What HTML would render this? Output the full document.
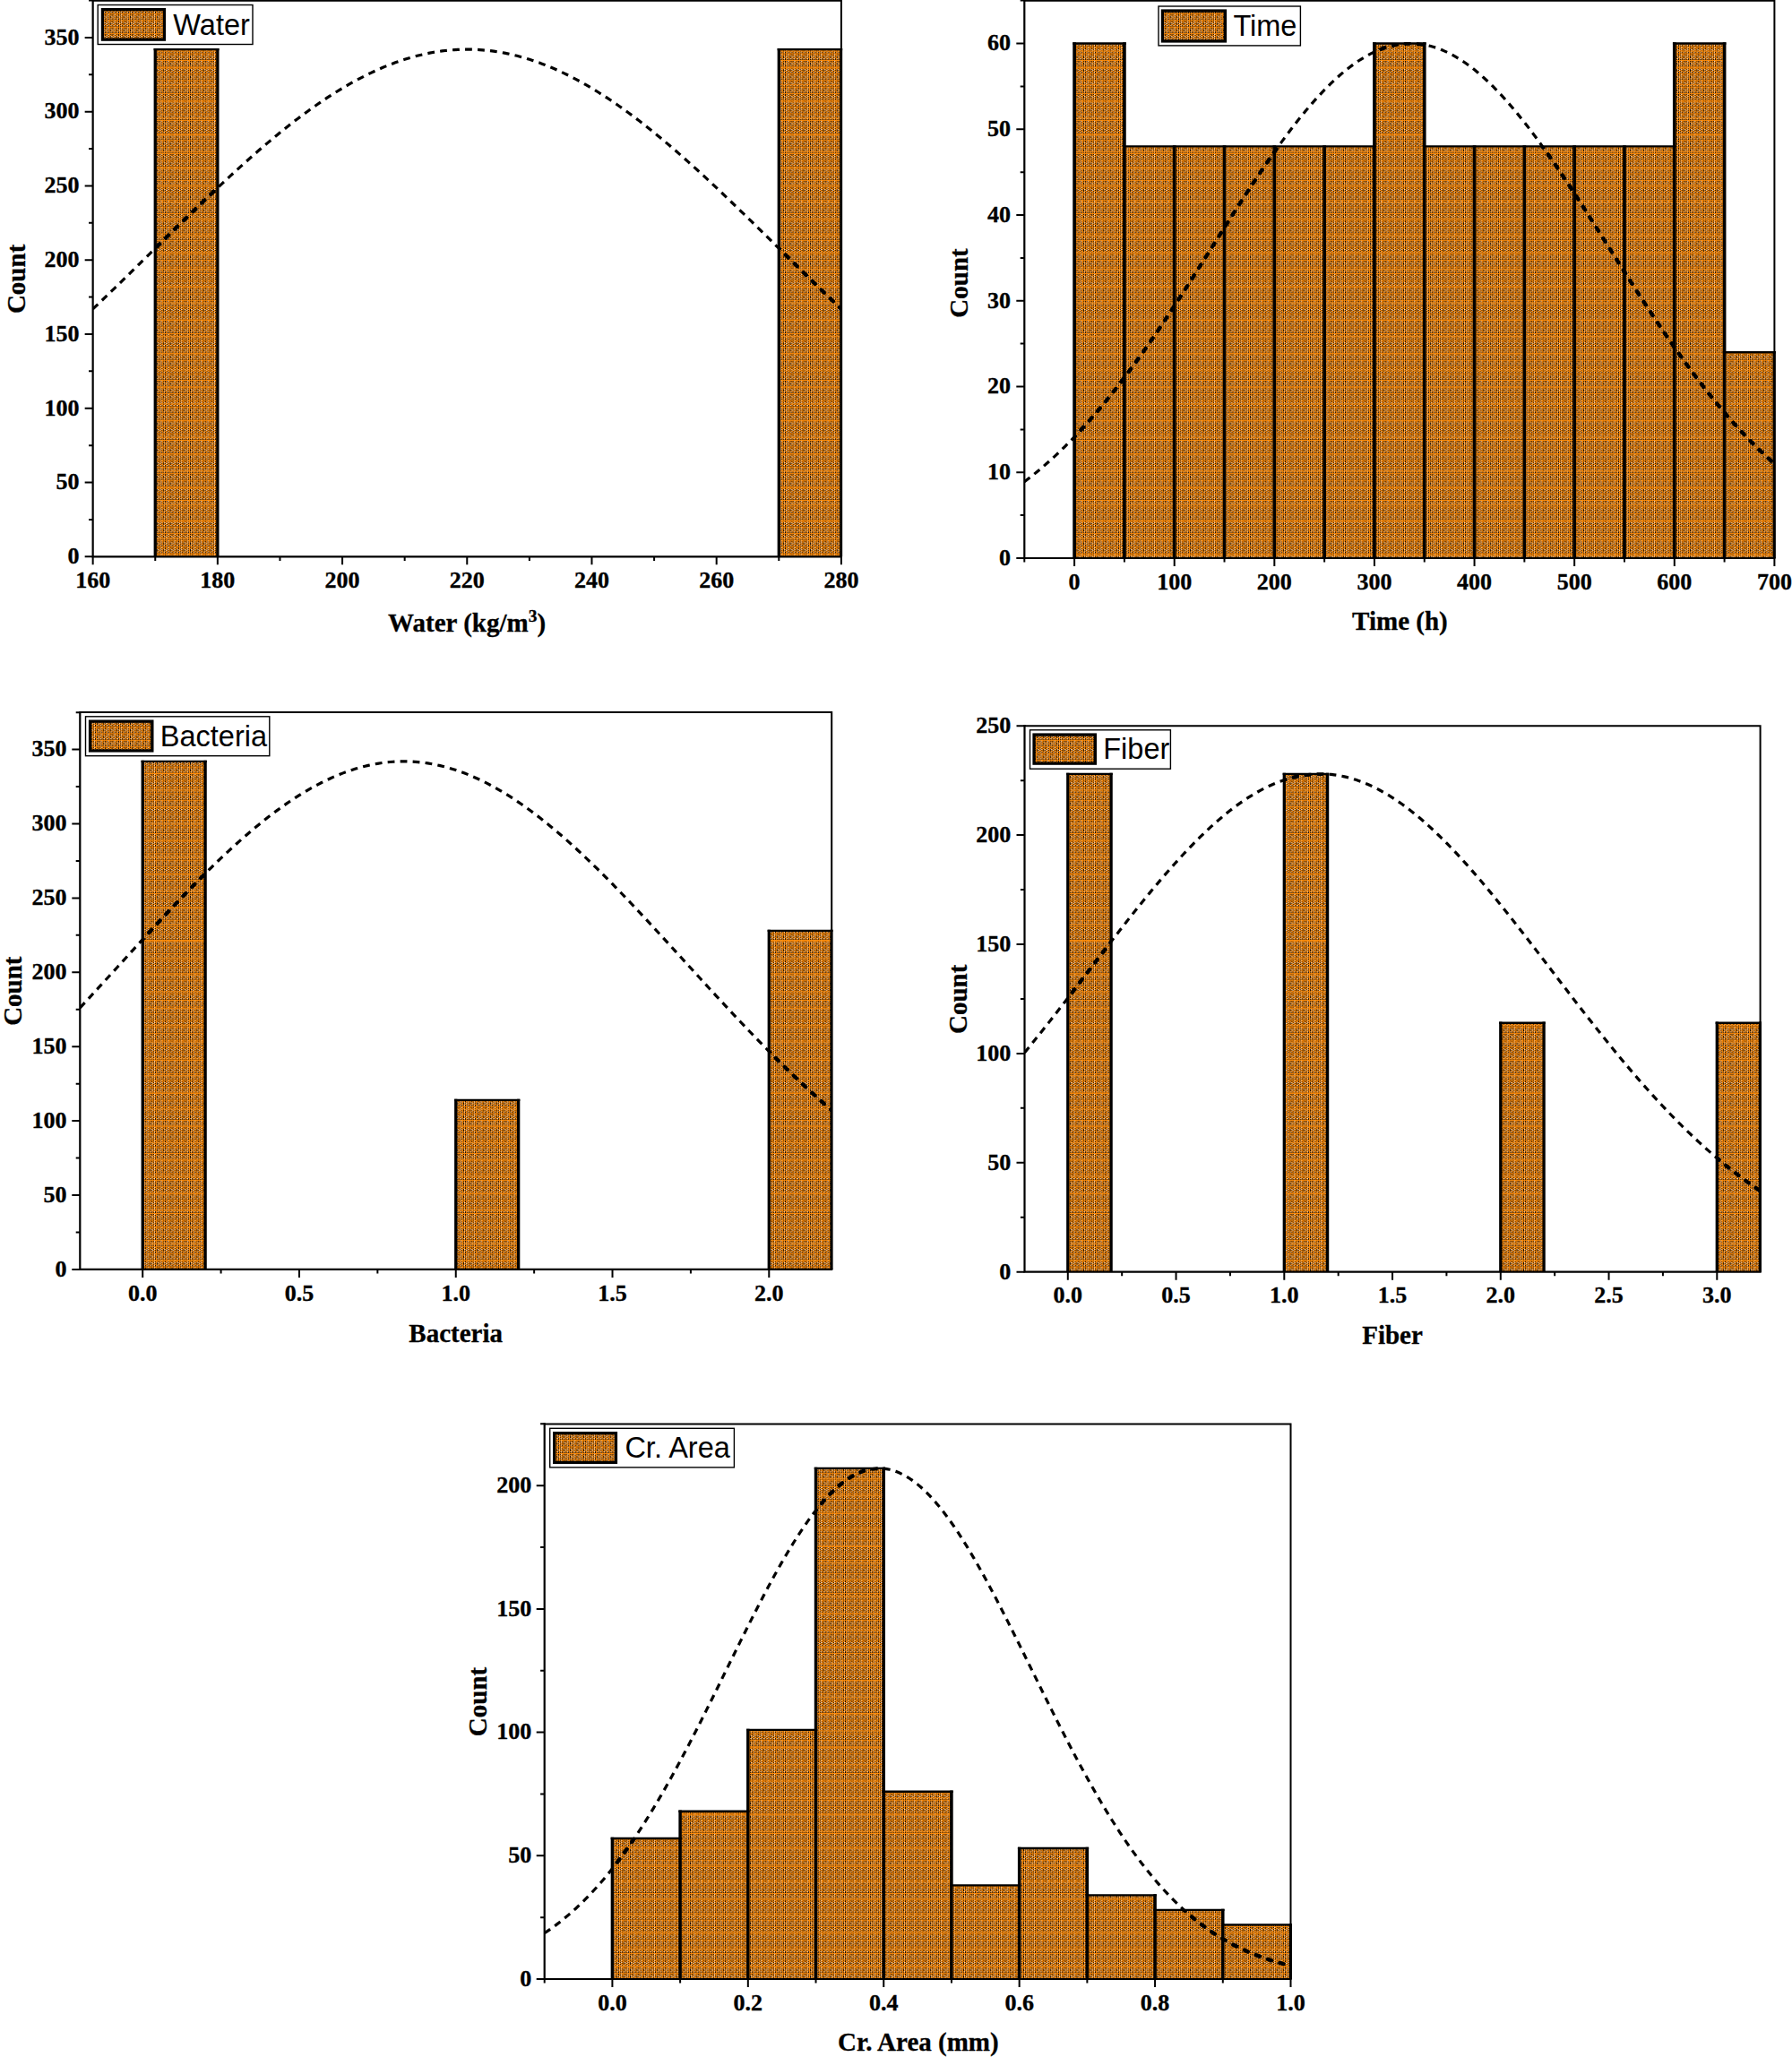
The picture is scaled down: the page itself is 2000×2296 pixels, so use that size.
<!DOCTYPE html>
<html lang="en">
<head>
<meta charset="utf-8">
<title>Histograms</title>
<style>html,body{margin:0;padding:0;background:#fff}body{width:2000px;height:2296px;overflow:hidden}svg{display:block}</style>
</head>
<body>
<svg width="2000" height="2296" viewBox="0 0 2000 2296">
<rect width="2000" height="2296" fill="#fff"/>
<defs>
<pattern id="hatch" width="8" height="8" patternUnits="userSpaceOnUse" patternTransform="scale(0.93)">
<rect width="8" height="8" fill="#ff8c0a"/>
<rect x="0" y="1" width="1" height="1" fill="#0a0a0a"/>
<rect x="1" y="1" width="1" height="1" fill="#dfe4ee"/>
<rect x="4" y="1" width="1" height="1" fill="#0a0a0a"/>
<rect x="6" y="1" width="1" height="1" fill="#0a0a0a"/>
<rect x="2" y="2" width="1" height="1" fill="#0a0a0a"/>
<rect x="6" y="2" width="1" height="1" fill="#0a0a0a"/>
<rect x="0" y="3" width="1" height="1" fill="#0a0a0a"/>
<rect x="1" y="3" width="1" height="1" fill="#dfe4ee"/>
<rect x="4" y="3" width="1" height="1" fill="#0a0a0a"/>
<rect x="5" y="3" width="1" height="1" fill="#dfe4ee"/>
<rect x="2" y="4" width="1" height="1" fill="#0a0a0a"/>
<rect x="4" y="4" width="1" height="1" fill="#0a0a0a"/>
<rect x="6" y="4" width="1" height="1" fill="#0a0a0a"/>
<rect x="7" y="4" width="1" height="1" fill="#dfe4ee"/>
<rect x="0" y="5" width="1" height="1" fill="#0a0a0a"/>
<rect x="4" y="5" width="1" height="1" fill="#0a0a0a"/>
<rect x="1" y="6" width="1" height="1" fill="#dfe4ee"/>
<rect x="2" y="6" width="1" height="1" fill="#0a0a0a"/>
<rect x="5" y="6" width="1" height="1" fill="#dfe4ee"/>
<rect x="6" y="6" width="1" height="1" fill="#0a0a0a"/>
<rect x="0" y="7" width="1" height="1" fill="#0a0a0a"/>
<rect x="2" y="7" width="1" height="1" fill="#0a0a0a"/>
<rect x="4" y="7" width="1" height="1" fill="#0a0a0a"/>
<rect x="6" y="7" width="1" height="1" fill="#0a0a0a"/>
</pattern>
<pattern id="hl" width="40" height="18.75" patternUnits="userSpaceOnUse">
<rect width="40" height="1.4" fill="#ff8c0a" fill-opacity="0.6"/>
</pattern>
</defs>
<g id="c1">
<clipPath id="c1-clip"><rect x="103.65" y="0.7" width="836.65" height="621.7"/></clipPath>
<g clip-path="url(#c1-clip)">
<g fill="url(#hatch)"><rect x="173.25" y="55.14" width="69.6" height="566.16"/><rect x="869.3" y="55.14" width="69.6" height="566.16"/></g>
<g fill="url(#hl)"><rect x="173.25" y="55.14" width="69.6" height="566.16"/><rect x="869.3" y="55.14" width="69.6" height="566.16"/></g>
<path d="M173.25 621.3V53.94M242.86 621.3V53.94M869.3 621.3V53.94M938.9 621.3V53.94" fill="none" stroke="#000" stroke-width="3.3"/>
<path d="M171.6 55.14H244.51M867.65 55.14H940.55" fill="none" stroke="#000" stroke-width="2.4"/>
<polyline points="103.65,344.93 107.13,341.62 110.61,338.3 114.09,334.97 117.57,331.63 121.05,328.28 124.53,324.91 128.01,321.54 131.49,318.17 134.97,314.78 138.45,311.39 141.93,307.99 145.41,304.59 148.89,301.18 152.37,297.76 155.85,294.35 159.33,290.93 162.81,287.5 166.29,284.08 169.77,280.65 173.25,277.22 176.73,273.8 180.21,270.37 183.69,266.95 187.18,263.52 190.66,260.1 194.14,256.69 197.62,253.28 201.1,249.87 204.58,246.47 208.06,243.08 211.54,239.69 215.02,236.31 218.5,232.94 221.98,229.58 225.46,226.23 228.94,222.89 232.42,219.56 235.9,216.25 239.38,212.95 242.86,209.66 246.34,206.39 249.82,203.13 253.3,199.89 256.78,196.67 260.26,193.46 263.74,190.28 267.22,187.11 270.7,183.96 274.18,180.84 277.66,177.73 281.14,174.65 284.62,171.59 288.1,168.56 291.58,165.55 295.06,162.57 298.54,159.61 302.02,156.68 305.5,153.78 308.98,150.91 312.46,148.07 315.94,145.25 319.42,142.47 322.9,139.72 326.38,137 329.86,134.32 333.34,131.67 336.82,129.05 340.3,126.47 343.78,123.93 347.26,121.42 350.74,118.95 354.23,116.52 357.71,114.12 361.19,111.77 364.67,109.45 368.15,107.18 371.63,104.95 375.11,102.76 378.59,100.61 382.07,98.5 385.55,96.44 389.03,94.43 392.51,92.46 395.99,90.53 399.47,88.65 402.95,86.82 406.43,85.03 409.91,83.29 413.39,81.6 416.87,79.96 420.35,78.37 423.83,76.82 427.31,75.33 430.79,73.89 434.27,72.49 437.75,71.15 441.23,69.86 444.71,68.63 448.19,67.44 451.67,66.31 455.15,65.23 458.63,64.21 462.11,63.23 465.59,62.32 469.07,61.45 472.55,60.64 476.03,59.89 479.51,59.19 482.99,58.54 486.47,57.96 489.95,57.42 493.43,56.95 496.91,56.52 500.39,56.16 503.87,55.85 507.35,55.59 510.83,55.4 514.31,55.26 517.79,55.17 521.27,55.14 524.76,55.17 528.24,55.26 531.72,55.4 535.2,55.59 538.68,55.85 542.16,56.16 545.64,56.52 549.12,56.95 552.6,57.42 556.08,57.96 559.56,58.54 563.04,59.19 566.52,59.89 570,60.64 573.48,61.45 576.96,62.32 580.44,63.23 583.92,64.21 587.4,65.23 590.88,66.31 594.36,67.44 597.84,68.63 601.32,69.86 604.8,71.15 608.28,72.49 611.76,73.89 615.24,75.33 618.72,76.82 622.2,78.37 625.68,79.96 629.16,81.6 632.64,83.29 636.12,85.03 639.6,86.82 643.08,88.65 646.56,90.53 650.04,92.46 653.52,94.43 657,96.44 660.48,98.5 663.96,100.61 667.44,102.76 670.92,104.95 674.4,107.18 677.88,109.45 681.36,111.77 684.84,114.12 688.32,116.52 691.81,118.95 695.29,121.42 698.77,123.93 702.25,126.47 705.73,129.05 709.21,131.67 712.69,134.32 716.17,137 719.65,139.72 723.13,142.47 726.61,145.25 730.09,148.07 733.57,150.91 737.05,153.78 740.53,156.68 744.01,159.61 747.49,162.57 750.97,165.55 754.45,168.56 757.93,171.59 761.41,174.65 764.89,177.73 768.37,180.84 771.85,183.96 775.33,187.11 778.81,190.28 782.29,193.46 785.77,196.67 789.25,199.89 792.73,203.13 796.21,206.39 799.69,209.66 803.17,212.95 806.65,216.25 810.13,219.56 813.61,222.89 817.09,226.23 820.57,229.58 824.05,232.94 827.53,236.31 831.01,239.69 834.49,243.08 837.97,246.47 841.45,249.87 844.93,253.28 848.41,256.69 851.89,260.1 855.37,263.52 858.86,266.95 862.34,270.37 865.82,273.8 869.3,277.22 872.78,280.65 876.26,284.08 879.74,287.5 883.22,290.93 886.7,294.35 890.18,297.76 893.66,301.18 897.14,304.59 900.62,307.99 904.1,311.39 907.58,314.78 911.06,318.17 914.54,321.54 918.02,324.91 921.5,328.28 924.98,331.63 928.46,334.97 931.94,338.3 935.42,341.62 938.9,344.93" fill="none" stroke="#000" stroke-width="3.2" stroke-dasharray="7.8 6.2" stroke-linejoin="round"/>
<clipPath id="c1-bars"><rect x="173.25" y="55.14" width="69.6" height="566.16"/><rect x="869.3" y="55.14" width="69.6" height="566.16"/></clipPath>
<polyline clip-path="url(#c1-bars)" points="103.65,344.93 107.13,341.62 110.61,338.3 114.09,334.97 117.57,331.63 121.05,328.28 124.53,324.91 128.01,321.54 131.49,318.17 134.97,314.78 138.45,311.39 141.93,307.99 145.41,304.59 148.89,301.18 152.37,297.76 155.85,294.35 159.33,290.93 162.81,287.5 166.29,284.08 169.77,280.65 173.25,277.22 176.73,273.8 180.21,270.37 183.69,266.95 187.18,263.52 190.66,260.1 194.14,256.69 197.62,253.28 201.1,249.87 204.58,246.47 208.06,243.08 211.54,239.69 215.02,236.31 218.5,232.94 221.98,229.58 225.46,226.23 228.94,222.89 232.42,219.56 235.9,216.25 239.38,212.95 242.86,209.66 246.34,206.39 249.82,203.13 253.3,199.89 256.78,196.67 260.26,193.46 263.74,190.28 267.22,187.11 270.7,183.96 274.18,180.84 277.66,177.73 281.14,174.65 284.62,171.59 288.1,168.56 291.58,165.55 295.06,162.57 298.54,159.61 302.02,156.68 305.5,153.78 308.98,150.91 312.46,148.07 315.94,145.25 319.42,142.47 322.9,139.72 326.38,137 329.86,134.32 333.34,131.67 336.82,129.05 340.3,126.47 343.78,123.93 347.26,121.42 350.74,118.95 354.23,116.52 357.71,114.12 361.19,111.77 364.67,109.45 368.15,107.18 371.63,104.95 375.11,102.76 378.59,100.61 382.07,98.5 385.55,96.44 389.03,94.43 392.51,92.46 395.99,90.53 399.47,88.65 402.95,86.82 406.43,85.03 409.91,83.29 413.39,81.6 416.87,79.96 420.35,78.37 423.83,76.82 427.31,75.33 430.79,73.89 434.27,72.49 437.75,71.15 441.23,69.86 444.71,68.63 448.19,67.44 451.67,66.31 455.15,65.23 458.63,64.21 462.11,63.23 465.59,62.32 469.07,61.45 472.55,60.64 476.03,59.89 479.51,59.19 482.99,58.54 486.47,57.96 489.95,57.42 493.43,56.95 496.91,56.52 500.39,56.16 503.87,55.85 507.35,55.59 510.83,55.4 514.31,55.26 517.79,55.17 521.27,55.14 524.76,55.17 528.24,55.26 531.72,55.4 535.2,55.59 538.68,55.85 542.16,56.16 545.64,56.52 549.12,56.95 552.6,57.42 556.08,57.96 559.56,58.54 563.04,59.19 566.52,59.89 570,60.64 573.48,61.45 576.96,62.32 580.44,63.23 583.92,64.21 587.4,65.23 590.88,66.31 594.36,67.44 597.84,68.63 601.32,69.86 604.8,71.15 608.28,72.49 611.76,73.89 615.24,75.33 618.72,76.82 622.2,78.37 625.68,79.96 629.16,81.6 632.64,83.29 636.12,85.03 639.6,86.82 643.08,88.65 646.56,90.53 650.04,92.46 653.52,94.43 657,96.44 660.48,98.5 663.96,100.61 667.44,102.76 670.92,104.95 674.4,107.18 677.88,109.45 681.36,111.77 684.84,114.12 688.32,116.52 691.81,118.95 695.29,121.42 698.77,123.93 702.25,126.47 705.73,129.05 709.21,131.67 712.69,134.32 716.17,137 719.65,139.72 723.13,142.47 726.61,145.25 730.09,148.07 733.57,150.91 737.05,153.78 740.53,156.68 744.01,159.61 747.49,162.57 750.97,165.55 754.45,168.56 757.93,171.59 761.41,174.65 764.89,177.73 768.37,180.84 771.85,183.96 775.33,187.11 778.81,190.28 782.29,193.46 785.77,196.67 789.25,199.89 792.73,203.13 796.21,206.39 799.69,209.66 803.17,212.95 806.65,216.25 810.13,219.56 813.61,222.89 817.09,226.23 820.57,229.58 824.05,232.94 827.53,236.31 831.01,239.69 834.49,243.08 837.97,246.47 841.45,249.87 844.93,253.28 848.41,256.69 851.89,260.1 855.37,263.52 858.86,266.95 862.34,270.37 865.82,273.8 869.3,277.22 872.78,280.65 876.26,284.08 879.74,287.5 883.22,290.93 886.7,294.35 890.18,297.76 893.66,301.18 897.14,304.59 900.62,307.99 904.1,311.39 907.58,314.78 911.06,318.17 914.54,321.54 918.02,324.91 921.5,328.28 924.98,331.63 928.46,334.97 931.94,338.3 935.42,341.62 938.9,344.93" fill="none" stroke="#000" stroke-width="4.4" stroke-dasharray="4 10" stroke-dashoffset="-1.9" stroke-linecap="round" stroke-linejoin="round"/>
</g>
<path d="M103.65 0.7H938.9V621.3" fill="none" stroke="#000" stroke-width="2"/>
<path d="M103.65 0.7V621.3H938.9" fill="none" stroke="#000" stroke-width="2.2" stroke-linecap="square"/>
<path d="M103.65 621.3v9M242.86 621.3v9M382.07 621.3v9M521.27 621.3v9M660.48 621.3v9M799.69 621.3v9M938.9 621.3v9M173.25 621.3v4.6M312.46 621.3v4.6M451.67 621.3v4.6M590.88 621.3v4.6M730.09 621.3v4.6M869.3 621.3v4.6M103.65 621.3h-9M103.65 538.53h-9M103.65 455.76h-9M103.65 372.99h-9M103.65 290.21h-9M103.65 207.44h-9M103.65 124.67h-9M103.65 41.9h-9M103.65 579.91h-4.6M103.65 497.14h-4.6M103.65 414.37h-4.6M103.65 331.6h-4.6M103.65 248.83h-4.6M103.65 166.06h-4.6M103.65 83.29h-4.6M103.65 0.51h-4.6" fill="none" stroke="#000" stroke-width="2"/>
<g font-family="'Liberation Serif', 'Times New Roman', serif" font-weight="bold" font-size="26" fill="#000" stroke="#000" stroke-width="0.35">
<g text-anchor="middle">
<text x="103.65" y="656.4">160</text>
<text x="242.86" y="656.4">180</text>
<text x="382.07" y="656.4">200</text>
<text x="521.27" y="656.4">220</text>
<text x="660.48" y="656.4">240</text>
<text x="799.69" y="656.4">260</text>
<text x="938.9" y="656.4">280</text>
</g><g text-anchor="end">
<text x="88.5" y="629.1">0</text>
<text x="88.5" y="546.33">50</text>
<text x="88.5" y="463.56">100</text>
<text x="88.5" y="380.79">150</text>
<text x="88.5" y="298.01">200</text>
<text x="88.5" y="215.24">250</text>
<text x="88.5" y="132.47">300</text>
<text x="88.5" y="49.7">350</text>
</g></g>
<g font-family="'Liberation Serif', 'Times New Roman', serif" font-weight="bold" font-size="29" fill="#000" stroke="#000" stroke-width="0.3" text-anchor="middle">
<text x="521.1" y="705.4">Water (kg/m<tspan dy="-11.7" font-size="19.5">3</tspan><tspan dy="11.7">)</tspan></text>
<text transform="translate(28 311.4) rotate(-90)">Count</text>
</g>
<rect x="109.2" y="5.5" width="172.8" height="44" fill="#fff" stroke="#000" stroke-width="1.4"/>
<rect x="114.45" y="10.65" width="69" height="33.5" fill="url(#hatch)" stroke="#000" stroke-width="3.3"/>
<text x="236.1" y="38.6" text-anchor="middle" font-family="'Liberation Sans', Arial, sans-serif" font-size="32.5" fill="#000">Water</text>
</g>
<g id="c2">
<clipPath id="c2-clip"><rect x="1143.3" y="0.7" width="838.5" height="623.4"/></clipPath>
<g clip-path="url(#c2-clip)">
<g fill="url(#hatch)"><rect x="1199.1" y="48.5" width="55.81" height="574.5"/><rect x="1254.91" y="163.4" width="55.81" height="459.6"/><rect x="1310.71" y="163.4" width="55.81" height="459.6"/><rect x="1366.52" y="163.4" width="55.81" height="459.6"/><rect x="1422.33" y="163.4" width="55.81" height="459.6"/><rect x="1478.14" y="163.4" width="55.81" height="459.6"/><rect x="1533.94" y="48.5" width="55.81" height="574.5"/><rect x="1589.75" y="163.4" width="55.81" height="459.6"/><rect x="1645.56" y="163.4" width="55.81" height="459.6"/><rect x="1701.36" y="163.4" width="55.81" height="459.6"/><rect x="1757.17" y="163.4" width="55.81" height="459.6"/><rect x="1812.98" y="163.4" width="55.81" height="459.6"/><rect x="1868.79" y="48.5" width="55.81" height="574.5"/><rect x="1924.59" y="393.2" width="55.81" height="229.8"/></g>
<g fill="url(#hl)"><rect x="1199.1" y="48.5" width="55.81" height="574.5"/><rect x="1254.91" y="163.4" width="55.81" height="459.6"/><rect x="1310.71" y="163.4" width="55.81" height="459.6"/><rect x="1366.52" y="163.4" width="55.81" height="459.6"/><rect x="1422.33" y="163.4" width="55.81" height="459.6"/><rect x="1478.14" y="163.4" width="55.81" height="459.6"/><rect x="1533.94" y="48.5" width="55.81" height="574.5"/><rect x="1589.75" y="163.4" width="55.81" height="459.6"/><rect x="1645.56" y="163.4" width="55.81" height="459.6"/><rect x="1701.36" y="163.4" width="55.81" height="459.6"/><rect x="1757.17" y="163.4" width="55.81" height="459.6"/><rect x="1812.98" y="163.4" width="55.81" height="459.6"/><rect x="1868.79" y="48.5" width="55.81" height="574.5"/><rect x="1924.59" y="393.2" width="55.81" height="229.8"/></g>
<path d="M1199.1 623V47.3M1254.91 623V47.3M1254.91 623V162.2M1310.71 623V162.2M1310.71 623V162.2M1366.52 623V162.2M1366.52 623V162.2M1422.33 623V162.2M1422.33 623V162.2M1478.14 623V162.2M1478.14 623V162.2M1533.94 623V162.2M1533.94 623V47.3M1589.75 623V47.3M1589.75 623V162.2M1645.56 623V162.2M1645.56 623V162.2M1701.36 623V162.2M1701.36 623V162.2M1757.17 623V162.2M1757.17 623V162.2M1812.98 623V162.2M1812.98 623V162.2M1868.79 623V162.2M1868.79 623V47.3M1924.59 623V47.3M1924.59 623V392M1980.4 623V392" fill="none" stroke="#000" stroke-width="3.7"/>
<path d="M1197.25 48.5H1256.76M1253.06 163.4H1312.56M1308.86 163.4H1368.37M1364.67 163.4H1424.18M1420.48 163.4H1479.99M1476.29 163.4H1535.79M1532.09 48.5H1591.6M1587.9 163.4H1647.41M1643.71 163.4H1703.21M1699.51 163.4H1759.02M1755.32 163.4H1814.83M1811.13 163.4H1870.64M1866.94 48.5H1926.44M1922.74 393.2H1982.25" fill="none" stroke="#000" stroke-width="2.4"/>
<polyline points="1143.3,537.75 1146.79,535.09 1150.28,532.36 1153.76,529.58 1157.25,526.73 1160.74,523.82 1164.23,520.85 1167.72,517.82 1171.2,514.72 1174.69,511.56 1178.18,508.33 1181.67,505.05 1185.15,501.7 1188.64,498.28 1192.13,494.8 1195.62,491.26 1199.11,487.65 1202.59,483.98 1206.08,480.24 1209.57,476.44 1213.06,472.58 1216.55,468.65 1220.03,464.67 1223.52,460.61 1227.01,456.5 1230.5,452.33 1233.99,448.09 1237.47,443.79 1240.96,439.44 1244.45,435.02 1247.94,430.55 1251.43,426.02 1254.91,421.44 1258.4,416.8 1261.89,412.1 1265.38,407.35 1268.87,402.55 1272.35,397.7 1275.84,392.8 1279.33,387.86 1282.82,382.86 1286.3,377.82 1289.79,372.74 1293.28,367.62 1296.77,362.46 1300.26,357.26 1303.74,352.02 1307.23,346.75 1310.72,341.45 1314.21,336.12 1317.7,330.76 1321.18,325.37 1324.67,319.96 1328.16,314.53 1331.65,309.08 1335.14,303.61 1338.62,298.13 1342.11,292.64 1345.6,287.14 1349.09,281.64 1352.58,276.13 1356.06,270.62 1359.55,265.11 1363.04,259.6 1366.53,254.11 1370.01,248.62 1373.5,243.15 1376.99,237.69 1380.48,232.26 1383.97,226.84 1387.45,221.46 1390.94,216.1 1394.43,210.77 1397.92,205.47 1401.41,200.22 1404.89,195 1408.38,189.83 1411.87,184.71 1415.36,179.63 1418.85,174.61 1422.33,169.65 1425.82,164.75 1429.31,159.9 1432.8,155.13 1436.29,150.42 1439.77,145.79 1443.26,141.23 1446.75,136.75 1450.24,132.35 1453.72,128.03 1457.21,123.8 1460.7,119.66 1464.19,115.62 1467.68,111.66 1471.16,107.81 1474.65,104.06 1478.14,100.41 1481.63,96.87 1485.12,93.43 1488.6,90.11 1492.09,86.9 1495.58,83.8 1499.07,80.82 1502.56,77.97 1506.04,75.23 1509.53,72.62 1513.02,70.13 1516.51,67.77 1519.99,65.54 1523.48,63.45 1526.97,61.48 1530.46,59.65 1533.95,57.95 1537.43,56.39 1540.92,54.97 1544.41,53.69 1547.9,52.55 1551.39,51.55 1554.87,50.68 1558.36,49.97 1561.85,49.39 1565.34,48.96 1568.83,48.67 1572.31,48.52 1575.8,48.52 1579.29,48.66 1582.78,48.94 1586.27,49.37 1589.75,49.94 1593.24,50.65 1596.73,51.51 1600.22,52.51 1603.7,53.64 1607.19,54.92 1610.68,56.34 1614.17,57.89 1617.66,59.58 1621.14,61.41 1624.63,63.37 1628.12,65.46 1631.61,67.69 1635.1,70.04 1638.58,72.52 1642.07,75.13 1645.56,77.86 1649.05,80.71 1652.54,83.69 1656.02,86.78 1659.51,89.98 1663,93.3 1666.49,96.73 1669.98,100.27 1673.46,103.92 1676.95,107.67 1680.44,111.52 1683.93,115.46 1687.41,119.51 1690.9,123.64 1694.39,127.87 1697.88,132.18 1701.37,136.58 1704.85,141.06 1708.34,145.61 1711.83,150.25 1715.32,154.95 1718.81,159.72 1722.29,164.56 1725.78,169.46 1729.27,174.42 1732.76,179.44 1736.25,184.51 1739.73,189.64 1743.22,194.81 1746.71,200.02 1750.2,205.27 1753.69,210.57 1757.17,215.89 1760.66,221.25 1764.15,226.64 1767.64,232.05 1771.12,237.49 1774.61,242.94 1778.1,248.41 1781.59,253.9 1785.08,259.4 1788.56,264.9 1792.05,270.41 1795.54,275.92 1799.03,281.43 1802.52,286.93 1806,292.43 1809.49,297.93 1812.98,303.41 1816.47,308.87 1819.96,314.32 1823.44,319.75 1826.93,325.16 1830.42,330.55 1833.91,335.91 1837.4,341.25 1840.88,346.55 1844.37,351.82 1847.86,357.06 1851.35,362.26 1854.84,367.42 1858.32,372.55 1861.81,377.63 1865.3,382.67 1868.79,387.67 1872.27,392.62 1875.76,397.52 1879.25,402.37 1882.74,407.17 1886.23,411.92 1889.71,416.62 1893.2,421.26 1896.69,425.85 1900.18,430.38 1903.67,434.86 1907.15,439.27 1910.64,443.63 1914.13,447.93 1917.62,452.17 1921.11,456.34 1924.59,460.46 1928.08,464.51 1931.57,468.5 1935.06,472.43 1938.55,476.3 1942.03,480.1 1945.52,483.84 1949.01,487.51 1952.5,491.12 1955.98,494.67 1959.47,498.15 1962.96,501.57 1966.45,504.92 1969.94,508.21 1973.42,511.44 1976.91,514.6 1980.4,517.7" fill="none" stroke="#000" stroke-width="3.2" stroke-dasharray="7.8 6.2" stroke-linejoin="round"/>
<clipPath id="c2-bars"><rect x="1199.1" y="48.5" width="55.81" height="574.5"/><rect x="1254.91" y="163.4" width="55.81" height="459.6"/><rect x="1310.71" y="163.4" width="55.81" height="459.6"/><rect x="1366.52" y="163.4" width="55.81" height="459.6"/><rect x="1422.33" y="163.4" width="55.81" height="459.6"/><rect x="1478.14" y="163.4" width="55.81" height="459.6"/><rect x="1533.94" y="48.5" width="55.81" height="574.5"/><rect x="1589.75" y="163.4" width="55.81" height="459.6"/><rect x="1645.56" y="163.4" width="55.81" height="459.6"/><rect x="1701.36" y="163.4" width="55.81" height="459.6"/><rect x="1757.17" y="163.4" width="55.81" height="459.6"/><rect x="1812.98" y="163.4" width="55.81" height="459.6"/><rect x="1868.79" y="48.5" width="55.81" height="574.5"/><rect x="1924.59" y="393.2" width="55.81" height="229.8"/></clipPath>
<polyline clip-path="url(#c2-bars)" points="1143.3,537.75 1146.79,535.09 1150.28,532.36 1153.76,529.58 1157.25,526.73 1160.74,523.82 1164.23,520.85 1167.72,517.82 1171.2,514.72 1174.69,511.56 1178.18,508.33 1181.67,505.05 1185.15,501.7 1188.64,498.28 1192.13,494.8 1195.62,491.26 1199.11,487.65 1202.59,483.98 1206.08,480.24 1209.57,476.44 1213.06,472.58 1216.55,468.65 1220.03,464.67 1223.52,460.61 1227.01,456.5 1230.5,452.33 1233.99,448.09 1237.47,443.79 1240.96,439.44 1244.45,435.02 1247.94,430.55 1251.43,426.02 1254.91,421.44 1258.4,416.8 1261.89,412.1 1265.38,407.35 1268.87,402.55 1272.35,397.7 1275.84,392.8 1279.33,387.86 1282.82,382.86 1286.3,377.82 1289.79,372.74 1293.28,367.62 1296.77,362.46 1300.26,357.26 1303.74,352.02 1307.23,346.75 1310.72,341.45 1314.21,336.12 1317.7,330.76 1321.18,325.37 1324.67,319.96 1328.16,314.53 1331.65,309.08 1335.14,303.61 1338.62,298.13 1342.11,292.64 1345.6,287.14 1349.09,281.64 1352.58,276.13 1356.06,270.62 1359.55,265.11 1363.04,259.6 1366.53,254.11 1370.01,248.62 1373.5,243.15 1376.99,237.69 1380.48,232.26 1383.97,226.84 1387.45,221.46 1390.94,216.1 1394.43,210.77 1397.92,205.47 1401.41,200.22 1404.89,195 1408.38,189.83 1411.87,184.71 1415.36,179.63 1418.85,174.61 1422.33,169.65 1425.82,164.75 1429.31,159.9 1432.8,155.13 1436.29,150.42 1439.77,145.79 1443.26,141.23 1446.75,136.75 1450.24,132.35 1453.72,128.03 1457.21,123.8 1460.7,119.66 1464.19,115.62 1467.68,111.66 1471.16,107.81 1474.65,104.06 1478.14,100.41 1481.63,96.87 1485.12,93.43 1488.6,90.11 1492.09,86.9 1495.58,83.8 1499.07,80.82 1502.56,77.97 1506.04,75.23 1509.53,72.62 1513.02,70.13 1516.51,67.77 1519.99,65.54 1523.48,63.45 1526.97,61.48 1530.46,59.65 1533.95,57.95 1537.43,56.39 1540.92,54.97 1544.41,53.69 1547.9,52.55 1551.39,51.55 1554.87,50.68 1558.36,49.97 1561.85,49.39 1565.34,48.96 1568.83,48.67 1572.31,48.52 1575.8,48.52 1579.29,48.66 1582.78,48.94 1586.27,49.37 1589.75,49.94 1593.24,50.65 1596.73,51.51 1600.22,52.51 1603.7,53.64 1607.19,54.92 1610.68,56.34 1614.17,57.89 1617.66,59.58 1621.14,61.41 1624.63,63.37 1628.12,65.46 1631.61,67.69 1635.1,70.04 1638.58,72.52 1642.07,75.13 1645.56,77.86 1649.05,80.71 1652.54,83.69 1656.02,86.78 1659.51,89.98 1663,93.3 1666.49,96.73 1669.98,100.27 1673.46,103.92 1676.95,107.67 1680.44,111.52 1683.93,115.46 1687.41,119.51 1690.9,123.64 1694.39,127.87 1697.88,132.18 1701.37,136.58 1704.85,141.06 1708.34,145.61 1711.83,150.25 1715.32,154.95 1718.81,159.72 1722.29,164.56 1725.78,169.46 1729.27,174.42 1732.76,179.44 1736.25,184.51 1739.73,189.64 1743.22,194.81 1746.71,200.02 1750.2,205.27 1753.69,210.57 1757.17,215.89 1760.66,221.25 1764.15,226.64 1767.64,232.05 1771.12,237.49 1774.61,242.94 1778.1,248.41 1781.59,253.9 1785.08,259.4 1788.56,264.9 1792.05,270.41 1795.54,275.92 1799.03,281.43 1802.52,286.93 1806,292.43 1809.49,297.93 1812.98,303.41 1816.47,308.87 1819.96,314.32 1823.44,319.75 1826.93,325.16 1830.42,330.55 1833.91,335.91 1837.4,341.25 1840.88,346.55 1844.37,351.82 1847.86,357.06 1851.35,362.26 1854.84,367.42 1858.32,372.55 1861.81,377.63 1865.3,382.67 1868.79,387.67 1872.27,392.62 1875.76,397.52 1879.25,402.37 1882.74,407.17 1886.23,411.92 1889.71,416.62 1893.2,421.26 1896.69,425.85 1900.18,430.38 1903.67,434.86 1907.15,439.27 1910.64,443.63 1914.13,447.93 1917.62,452.17 1921.11,456.34 1924.59,460.46 1928.08,464.51 1931.57,468.5 1935.06,472.43 1938.55,476.3 1942.03,480.1 1945.52,483.84 1949.01,487.51 1952.5,491.12 1955.98,494.67 1959.47,498.15 1962.96,501.57 1966.45,504.92 1969.94,508.21 1973.42,511.44 1976.91,514.6 1980.4,517.7" fill="none" stroke="#000" stroke-width="4.4" stroke-dasharray="4 10" stroke-dashoffset="-1.9" stroke-linecap="round" stroke-linejoin="round"/>
</g>
<path d="M1143.3 0.7H1980.4V623" fill="none" stroke="#000" stroke-width="2"/>
<path d="M1143.3 0.7V623H1980.4" fill="none" stroke="#000" stroke-width="2.2" stroke-linecap="square"/>
<path d="M1199.1 623v9M1310.71 623v9M1422.33 623v9M1533.94 623v9M1645.56 623v9M1757.17 623v9M1868.79 623v9M1980.4 623v9M1143.29 623v4.6M1254.91 623v4.6M1366.52 623v4.6M1478.14 623v4.6M1589.75 623v4.6M1701.36 623v4.6M1812.98 623v4.6M1924.59 623v4.6M1143.3 623h-9M1143.3 527.25h-9M1143.3 431.5h-9M1143.3 335.75h-9M1143.3 240h-9M1143.3 144.25h-9M1143.3 48.5h-9M1143.3 575.12h-4.6M1143.3 479.38h-4.6M1143.3 383.62h-4.6M1143.3 287.88h-4.6M1143.3 192.13h-4.6M1143.3 96.38h-4.6M1143.3 0.62h-4.6" fill="none" stroke="#000" stroke-width="2"/>
<g font-family="'Liberation Serif', 'Times New Roman', serif" font-weight="bold" font-size="26" fill="#000" stroke="#000" stroke-width="0.35">
<g text-anchor="middle">
<text x="1199.1" y="658.3">0</text>
<text x="1310.71" y="658.3">100</text>
<text x="1422.33" y="658.3">200</text>
<text x="1533.94" y="658.3">300</text>
<text x="1645.56" y="658.3">400</text>
<text x="1757.17" y="658.3">500</text>
<text x="1868.79" y="658.3">600</text>
<text x="1980.4" y="658.3">700</text>
</g><g text-anchor="end">
<text x="1128" y="630.8">0</text>
<text x="1128" y="535.05">10</text>
<text x="1128" y="439.3">20</text>
<text x="1128" y="343.55">30</text>
<text x="1128" y="247.8">40</text>
<text x="1128" y="152.05">50</text>
<text x="1128" y="56.3">60</text>
</g></g>
<g font-family="'Liberation Serif', 'Times New Roman', serif" font-weight="bold" font-size="29" fill="#000" stroke="#000" stroke-width="0.3" text-anchor="middle">
<text x="1562.4" y="703.3">Time (h)</text>
<text transform="translate(1080 316) rotate(-90)">Count</text>
</g>
<rect x="1293" y="7" width="158.4" height="43.9" fill="#fff" stroke="#000" stroke-width="1.4"/>
<rect x="1297.45" y="12.05" width="70" height="33.9" fill="url(#hatch)" stroke="#000" stroke-width="3.3"/>
<text x="1411.9" y="40.2" text-anchor="middle" font-family="'Liberation Sans', Arial, sans-serif" font-size="32.5" fill="#000">Time</text>
</g>
<g id="c3">
<clipPath id="c3-clip"><rect x="89.3" y="795.1" width="840.3" height="622.9"/></clipPath>
<g clip-path="url(#c3-clip)">
<g fill="url(#hatch)"><rect x="159.21" y="849.86" width="69.91" height="567.04"/><rect x="508.75" y="1227.89" width="69.91" height="189.01"/><rect x="858.29" y="1038.88" width="69.91" height="378.02"/></g>
<g fill="url(#hl)"><rect x="159.21" y="849.86" width="69.91" height="567.04"/><rect x="508.75" y="1227.89" width="69.91" height="189.01"/><rect x="858.29" y="1038.88" width="69.91" height="378.02"/></g>
<path d="M159.21 1416.9V848.66M229.12 1416.9V848.66M508.75 1416.9V1226.69M578.66 1416.9V1226.69M858.29 1416.9V1037.68M928.2 1416.9V1037.68" fill="none" stroke="#000" stroke-width="3.3"/>
<path d="M157.56 849.86H230.77M507.1 1227.89H580.31M856.64 1038.88H929.85" fill="none" stroke="#000" stroke-width="2.4"/>
<polyline points="89.3,1124.85 92.8,1121.09 96.29,1117.33 99.79,1113.55 103.28,1109.76 106.78,1105.96 110.27,1102.16 113.77,1098.35 117.26,1094.53 120.76,1090.71 124.25,1086.89 127.75,1083.06 131.25,1079.22 134.74,1075.39 138.24,1071.56 141.73,1067.72 145.23,1063.89 148.72,1060.06 152.22,1056.23 155.71,1052.41 159.21,1048.59 162.7,1044.78 166.2,1040.98 169.69,1037.18 173.19,1033.4 176.69,1029.62 180.18,1025.86 183.68,1022.1 187.17,1018.37 190.67,1014.64 194.16,1010.93 197.66,1007.24 201.15,1003.57 204.65,999.92 208.14,996.28 211.64,992.67 215.13,989.08 218.63,985.51 222.13,981.96 225.62,978.44 229.12,974.95 232.61,971.49 236.11,968.05 239.6,964.65 243.1,961.27 246.59,957.93 250.09,954.62 253.58,951.34 257.08,948.1 260.58,944.89 264.07,941.72 267.57,938.59 271.06,935.5 274.56,932.45 278.05,929.44 281.55,926.48 285.04,923.55 288.54,920.67 292.03,917.84 295.53,915.05 299.02,912.31 302.52,909.61 306.02,906.97 309.51,904.38 313.01,901.83 316.5,899.34 320,896.9 323.49,894.52 326.99,892.18 330.48,889.91 333.98,887.69 337.47,885.52 340.97,883.42 344.47,881.37 347.96,879.38 351.46,877.45 354.95,875.58 358.45,873.77 361.94,872.03 365.44,870.34 368.93,868.72 372.43,867.16 375.92,865.67 379.42,864.24 382.92,862.88 386.41,861.58 389.91,860.35 393.4,859.18 396.9,858.08 400.39,857.05 403.89,856.09 407.38,855.2 410.88,854.37 414.37,853.61 417.87,852.92 421.36,852.3 424.86,851.75 428.36,851.27 431.85,850.86 435.35,850.52 438.84,850.25 442.34,850.06 445.83,849.93 449.33,849.87 452.82,849.88 456.32,849.96 459.81,850.12 463.31,850.34 466.81,850.63 470.3,851 473.8,851.43 477.29,851.93 480.79,852.51 484.28,853.15 487.78,853.86 491.27,854.64 494.77,855.49 498.26,856.41 501.76,857.4 505.25,858.45 508.75,859.57 512.25,860.76 515.74,862.01 519.24,863.33 522.73,864.72 526.23,866.17 529.72,867.69 533.22,869.27 536.71,870.91 540.21,872.61 543.7,874.38 547.2,876.21 550.7,878.1 554.19,880.05 557.69,882.06 561.18,884.13 564.68,886.25 568.17,888.44 571.67,890.68 575.16,892.97 578.66,895.32 582.15,897.72 585.65,900.18 589.14,902.69 592.64,905.25 596.14,907.86 599.63,910.52 603.13,913.23 606.62,915.99 610.12,918.8 613.61,921.65 617.11,924.54 620.6,927.48 624.1,930.46 627.59,933.48 631.09,936.55 634.58,939.65 638.08,942.8 641.58,945.98 645.07,949.2 648.57,952.45 652.06,955.74 655.56,959.06 659.05,962.41 662.55,965.8 666.04,969.22 669.54,972.66 673.03,976.14 676.53,979.64 680.03,983.17 683.52,986.72 687.02,990.29 690.51,993.89 694.01,997.51 697.5,1001.16 701,1004.82 704.49,1008.5 707.99,1012.19 711.48,1015.91 714.98,1019.64 718.48,1023.38 721.97,1027.14 725.47,1030.9 728.96,1034.68 732.46,1038.47 735.95,1042.27 739.45,1046.08 742.94,1049.89 746.44,1053.71 749.93,1057.53 753.43,1061.36 756.92,1065.19 760.42,1069.03 763.92,1072.86 767.41,1076.69 770.91,1080.53 774.4,1084.36 777.9,1088.19 781.39,1092.01 784.89,1095.83 788.38,1099.65 791.88,1103.46 795.37,1107.26 798.87,1111.05 802.37,1114.83 805.86,1118.61 809.36,1122.37 812.85,1126.12 816.35,1129.86 819.84,1133.59 823.34,1137.31 826.83,1141 830.33,1144.69 833.82,1148.36 837.32,1152.01 840.81,1155.64 844.31,1159.26 847.81,1162.86 851.3,1166.44 854.8,1170 858.29,1173.54 861.79,1177.06 865.28,1180.55 868.78,1184.03 872.27,1187.48 875.77,1190.91 879.26,1194.31 882.76,1197.7 886.25,1201.05 889.75,1204.38 893.25,1207.69 896.74,1210.97 900.24,1214.23 903.73,1217.45 907.23,1220.65 910.72,1223.83 914.22,1226.97 917.71,1230.09 921.21,1233.18 924.7,1236.24 928.2,1239.27" fill="none" stroke="#000" stroke-width="3.2" stroke-dasharray="7.8 6.2" stroke-linejoin="round"/>
<clipPath id="c3-bars"><rect x="159.21" y="849.86" width="69.91" height="567.04"/><rect x="508.75" y="1227.89" width="69.91" height="189.01"/><rect x="858.29" y="1038.88" width="69.91" height="378.02"/></clipPath>
<polyline clip-path="url(#c3-bars)" points="89.3,1124.85 92.8,1121.09 96.29,1117.33 99.79,1113.55 103.28,1109.76 106.78,1105.96 110.27,1102.16 113.77,1098.35 117.26,1094.53 120.76,1090.71 124.25,1086.89 127.75,1083.06 131.25,1079.22 134.74,1075.39 138.24,1071.56 141.73,1067.72 145.23,1063.89 148.72,1060.06 152.22,1056.23 155.71,1052.41 159.21,1048.59 162.7,1044.78 166.2,1040.98 169.69,1037.18 173.19,1033.4 176.69,1029.62 180.18,1025.86 183.68,1022.1 187.17,1018.37 190.67,1014.64 194.16,1010.93 197.66,1007.24 201.15,1003.57 204.65,999.92 208.14,996.28 211.64,992.67 215.13,989.08 218.63,985.51 222.13,981.96 225.62,978.44 229.12,974.95 232.61,971.49 236.11,968.05 239.6,964.65 243.1,961.27 246.59,957.93 250.09,954.62 253.58,951.34 257.08,948.1 260.58,944.89 264.07,941.72 267.57,938.59 271.06,935.5 274.56,932.45 278.05,929.44 281.55,926.48 285.04,923.55 288.54,920.67 292.03,917.84 295.53,915.05 299.02,912.31 302.52,909.61 306.02,906.97 309.51,904.38 313.01,901.83 316.5,899.34 320,896.9 323.49,894.52 326.99,892.18 330.48,889.91 333.98,887.69 337.47,885.52 340.97,883.42 344.47,881.37 347.96,879.38 351.46,877.45 354.95,875.58 358.45,873.77 361.94,872.03 365.44,870.34 368.93,868.72 372.43,867.16 375.92,865.67 379.42,864.24 382.92,862.88 386.41,861.58 389.91,860.35 393.4,859.18 396.9,858.08 400.39,857.05 403.89,856.09 407.38,855.2 410.88,854.37 414.37,853.61 417.87,852.92 421.36,852.3 424.86,851.75 428.36,851.27 431.85,850.86 435.35,850.52 438.84,850.25 442.34,850.06 445.83,849.93 449.33,849.87 452.82,849.88 456.32,849.96 459.81,850.12 463.31,850.34 466.81,850.63 470.3,851 473.8,851.43 477.29,851.93 480.79,852.51 484.28,853.15 487.78,853.86 491.27,854.64 494.77,855.49 498.26,856.41 501.76,857.4 505.25,858.45 508.75,859.57 512.25,860.76 515.74,862.01 519.24,863.33 522.73,864.72 526.23,866.17 529.72,867.69 533.22,869.27 536.71,870.91 540.21,872.61 543.7,874.38 547.2,876.21 550.7,878.1 554.19,880.05 557.69,882.06 561.18,884.13 564.68,886.25 568.17,888.44 571.67,890.68 575.16,892.97 578.66,895.32 582.15,897.72 585.65,900.18 589.14,902.69 592.64,905.25 596.14,907.86 599.63,910.52 603.13,913.23 606.62,915.99 610.12,918.8 613.61,921.65 617.11,924.54 620.6,927.48 624.1,930.46 627.59,933.48 631.09,936.55 634.58,939.65 638.08,942.8 641.58,945.98 645.07,949.2 648.57,952.45 652.06,955.74 655.56,959.06 659.05,962.41 662.55,965.8 666.04,969.22 669.54,972.66 673.03,976.14 676.53,979.64 680.03,983.17 683.52,986.72 687.02,990.29 690.51,993.89 694.01,997.51 697.5,1001.16 701,1004.82 704.49,1008.5 707.99,1012.19 711.48,1015.91 714.98,1019.64 718.48,1023.38 721.97,1027.14 725.47,1030.9 728.96,1034.68 732.46,1038.47 735.95,1042.27 739.45,1046.08 742.94,1049.89 746.44,1053.71 749.93,1057.53 753.43,1061.36 756.92,1065.19 760.42,1069.03 763.92,1072.86 767.41,1076.69 770.91,1080.53 774.4,1084.36 777.9,1088.19 781.39,1092.01 784.89,1095.83 788.38,1099.65 791.88,1103.46 795.37,1107.26 798.87,1111.05 802.37,1114.83 805.86,1118.61 809.36,1122.37 812.85,1126.12 816.35,1129.86 819.84,1133.59 823.34,1137.31 826.83,1141 830.33,1144.69 833.82,1148.36 837.32,1152.01 840.81,1155.64 844.31,1159.26 847.81,1162.86 851.3,1166.44 854.8,1170 858.29,1173.54 861.79,1177.06 865.28,1180.55 868.78,1184.03 872.27,1187.48 875.77,1190.91 879.26,1194.31 882.76,1197.7 886.25,1201.05 889.75,1204.38 893.25,1207.69 896.74,1210.97 900.24,1214.23 903.73,1217.45 907.23,1220.65 910.72,1223.83 914.22,1226.97 917.71,1230.09 921.21,1233.18 924.7,1236.24 928.2,1239.27" fill="none" stroke="#000" stroke-width="4.4" stroke-dasharray="4 10" stroke-dashoffset="-1.9" stroke-linecap="round" stroke-linejoin="round"/>
</g>
<path d="M89.3 795.1H928.2V1416.9" fill="none" stroke="#000" stroke-width="2"/>
<path d="M89.3 795.1V1416.9H928.2" fill="none" stroke="#000" stroke-width="2.2" stroke-linecap="square"/>
<path d="M159.21 1416.9v9M333.98 1416.9v9M508.75 1416.9v9M683.52 1416.9v9M858.29 1416.9v9M246.59 1416.9v4.6M421.36 1416.9v4.6M596.14 1416.9v4.6M770.91 1416.9v4.6M89.3 1416.9h-9M89.3 1334h-9M89.3 1251.1h-9M89.3 1168.2h-9M89.3 1085.3h-9M89.3 1002.4h-9M89.3 919.5h-9M89.3 836.6h-9M89.3 1375.45h-4.6M89.3 1292.55h-4.6M89.3 1209.65h-4.6M89.3 1126.75h-4.6M89.3 1043.85h-4.6M89.3 960.95h-4.6M89.3 878.05h-4.6M89.3 795.15h-4.6" fill="none" stroke="#000" stroke-width="2"/>
<g font-family="'Liberation Serif', 'Times New Roman', serif" font-weight="bold" font-size="26" fill="#000" stroke="#000" stroke-width="0.35">
<g text-anchor="middle">
<text x="159.21" y="1452.2">0.0</text>
<text x="333.98" y="1452.2">0.5</text>
<text x="508.75" y="1452.2">1.0</text>
<text x="683.52" y="1452.2">1.5</text>
<text x="858.29" y="1452.2">2.0</text>
</g><g text-anchor="end">
<text x="74.6" y="1424.7">0</text>
<text x="74.6" y="1341.8">50</text>
<text x="74.6" y="1258.9">100</text>
<text x="74.6" y="1176">150</text>
<text x="74.6" y="1093.1">200</text>
<text x="74.6" y="1010.2">250</text>
<text x="74.6" y="927.3">300</text>
<text x="74.6" y="844.4">350</text>
</g></g>
<g font-family="'Liberation Serif', 'Times New Roman', serif" font-weight="bold" font-size="29" fill="#000" stroke="#000" stroke-width="0.3" text-anchor="middle">
<text x="508.65" y="1498.3">Bacteria</text>
<text transform="translate(24.1 1106.2) rotate(-90)">Count</text>
</g>
<rect x="95.5" y="799.8" width="205.3" height="43.9" fill="#fff" stroke="#000" stroke-width="1.4"/>
<rect x="100.55" y="805.15" width="69.3" height="32.8" fill="url(#hatch)" stroke="#000" stroke-width="3.3"/>
<text x="238.4" y="832.7" text-anchor="middle" font-family="'Liberation Sans', Arial, sans-serif" font-size="32.5" fill="#000">Bacteria</text>
</g>
<g id="c4">
<clipPath id="c4-clip"><rect x="1143.5" y="810.2" width="822.5" height="610.6"/></clipPath>
<g clip-path="url(#c4-clip)">
<g fill="url(#hatch)"><rect x="1191.8" y="863.84" width="48.3" height="555.86"/><rect x="1433.3" y="863.84" width="48.3" height="555.86"/><rect x="1674.8" y="1141.77" width="48.3" height="277.93"/><rect x="1916.3" y="1141.77" width="48.3" height="277.93"/></g>
<g fill="url(#hl)"><rect x="1191.8" y="863.84" width="48.3" height="555.86"/><rect x="1433.3" y="863.84" width="48.3" height="555.86"/><rect x="1674.8" y="1141.77" width="48.3" height="277.93"/><rect x="1916.3" y="1141.77" width="48.3" height="277.93"/></g>
<path d="M1191.8 1419.7V862.64M1240.1 1419.7V862.64M1433.3 1419.7V862.64M1481.6 1419.7V862.64M1674.8 1419.7V1140.57M1723.1 1419.7V1140.57M1916.3 1419.7V1140.57M1964.6 1419.7V1140.57" fill="none" stroke="#000" stroke-width="3.3"/>
<path d="M1190.15 863.84H1241.75M1431.65 863.84H1483.25M1673.15 1141.77H1724.75M1914.65 1141.77H1966.25" fill="none" stroke="#000" stroke-width="2.4"/>
<polyline points="1143.5,1174.96 1146.92,1170.78 1150.34,1166.58 1153.76,1162.35 1157.18,1158.1 1160.61,1153.83 1164.03,1149.53 1167.45,1145.21 1170.87,1140.87 1174.29,1136.51 1177.71,1132.14 1181.13,1127.74 1184.56,1123.34 1187.98,1118.92 1191.4,1114.49 1194.82,1110.04 1198.24,1105.59 1201.66,1101.13 1205.08,1096.67 1208.5,1092.2 1211.92,1087.72 1215.35,1083.25 1218.77,1078.77 1222.19,1074.3 1225.61,1069.82 1229.03,1065.36 1232.45,1060.9 1235.87,1056.44 1239.3,1052 1242.72,1047.57 1246.14,1043.15 1249.56,1038.74 1252.98,1034.35 1256.4,1029.98 1259.82,1025.63 1263.24,1021.3 1266.66,1017 1270.09,1012.72 1273.51,1008.47 1276.93,1004.24 1280.35,1000.05 1283.77,995.89 1287.19,991.76 1290.61,987.67 1294.03,983.62 1297.46,979.6 1300.88,975.63 1304.3,971.7 1307.72,967.82 1311.14,963.98 1314.56,960.19 1317.98,956.45 1321.4,952.76 1324.83,949.13 1328.25,945.55 1331.67,942.03 1335.09,938.57 1338.51,935.16 1341.93,931.82 1345.35,928.55 1348.78,925.34 1352.2,922.19 1355.62,919.11 1359.04,916.11 1362.46,913.17 1365.88,910.31 1369.3,907.52 1372.72,904.81 1376.14,902.17 1379.57,899.61 1382.99,897.13 1386.41,894.73 1389.83,892.42 1393.25,890.19 1396.67,888.04 1400.09,885.97 1403.51,884 1406.94,882.11 1410.36,880.31 1413.78,878.59 1417.2,876.97 1420.62,875.44 1424.04,874 1427.46,872.66 1430.88,871.41 1434.31,870.25 1437.73,869.18 1441.15,868.22 1444.57,867.34 1447.99,866.57 1451.41,865.89 1454.83,865.3 1458.25,864.82 1461.68,864.43 1465.1,864.14 1468.52,863.94 1471.94,863.85 1475.36,863.85 1478.78,863.95 1482.2,864.15 1485.62,864.45 1489.05,864.84 1492.47,865.33 1495.89,865.92 1499.31,866.6 1502.73,867.39 1506.15,868.27 1509.57,869.24 1512.99,870.31 1516.42,871.47 1519.84,872.73 1523.26,874.08 1526.68,875.52 1530.1,877.06 1533.52,878.68 1536.94,880.4 1540.37,882.21 1543.79,884.1 1547.21,886.08 1550.63,888.15 1554.05,890.3 1557.47,892.54 1560.89,894.86 1564.31,897.27 1567.73,899.75 1571.16,902.31 1574.58,904.95 1578,907.67 1581.42,910.46 1584.84,913.33 1588.26,916.27 1591.68,919.28 1595.11,922.36 1598.53,925.51 1601.95,928.72 1605.37,932 1608.79,935.35 1612.21,938.75 1615.63,942.22 1619.05,945.74 1622.47,949.32 1625.9,952.96 1629.32,956.65 1632.74,960.39 1636.16,964.18 1639.58,968.02 1643,971.91 1646.42,975.84 1649.84,979.82 1653.27,983.83 1656.69,987.89 1660.11,991.98 1663.53,996.11 1666.95,1000.27 1670.37,1004.47 1673.79,1008.7 1677.21,1012.95 1680.64,1017.23 1684.06,1021.54 1687.48,1025.87 1690.9,1030.22 1694.32,1034.59 1697.74,1038.98 1701.16,1043.39 1704.58,1047.81 1708.01,1052.24 1711.43,1056.68 1714.85,1061.14 1718.27,1065.6 1721.69,1070.07 1725.11,1074.54 1728.53,1079.01 1731.95,1083.49 1735.38,1087.96 1738.8,1092.44 1742.22,1096.91 1745.64,1101.37 1749.06,1105.83 1752.48,1110.29 1755.9,1114.73 1759.32,1119.16 1762.75,1123.58 1766.17,1127.98 1769.59,1132.37 1773.01,1136.75 1776.43,1141.1 1779.85,1145.44 1783.27,1149.76 1786.69,1154.06 1790.12,1158.33 1793.54,1162.58 1796.96,1166.81 1800.38,1171.01 1803.8,1175.19 1807.22,1179.33 1810.64,1183.45 1814.06,1187.54 1817.49,1191.6 1820.91,1195.62 1824.33,1199.62 1827.75,1203.58 1831.17,1207.5 1834.59,1211.4 1838.01,1215.25 1841.43,1219.08 1844.86,1222.86 1848.28,1226.61 1851.7,1230.32 1855.12,1233.99 1858.54,1237.62 1861.96,1241.21 1865.38,1244.76 1868.8,1248.27 1872.23,1251.74 1875.65,1255.17 1879.07,1258.56 1882.49,1261.91 1885.91,1265.21 1889.33,1268.47 1892.75,1271.69 1896.17,1274.87 1899.6,1278 1903.02,1281.09 1906.44,1284.13 1909.86,1287.13 1913.28,1290.09 1916.7,1293.01 1920.12,1295.88 1923.54,1298.71 1926.97,1301.49 1930.39,1304.23 1933.81,1306.93 1937.23,1309.58 1940.65,1312.19 1944.07,1314.75 1947.49,1317.28 1950.91,1319.76 1954.34,1322.19 1957.76,1324.59 1961.18,1326.94 1964.6,1329.25" fill="none" stroke="#000" stroke-width="3.2" stroke-dasharray="7.8 6.2" stroke-linejoin="round"/>
<clipPath id="c4-bars"><rect x="1191.8" y="863.84" width="48.3" height="555.86"/><rect x="1433.3" y="863.84" width="48.3" height="555.86"/><rect x="1674.8" y="1141.77" width="48.3" height="277.93"/><rect x="1916.3" y="1141.77" width="48.3" height="277.93"/></clipPath>
<polyline clip-path="url(#c4-bars)" points="1143.5,1174.96 1146.92,1170.78 1150.34,1166.58 1153.76,1162.35 1157.18,1158.1 1160.61,1153.83 1164.03,1149.53 1167.45,1145.21 1170.87,1140.87 1174.29,1136.51 1177.71,1132.14 1181.13,1127.74 1184.56,1123.34 1187.98,1118.92 1191.4,1114.49 1194.82,1110.04 1198.24,1105.59 1201.66,1101.13 1205.08,1096.67 1208.5,1092.2 1211.92,1087.72 1215.35,1083.25 1218.77,1078.77 1222.19,1074.3 1225.61,1069.82 1229.03,1065.36 1232.45,1060.9 1235.87,1056.44 1239.3,1052 1242.72,1047.57 1246.14,1043.15 1249.56,1038.74 1252.98,1034.35 1256.4,1029.98 1259.82,1025.63 1263.24,1021.3 1266.66,1017 1270.09,1012.72 1273.51,1008.47 1276.93,1004.24 1280.35,1000.05 1283.77,995.89 1287.19,991.76 1290.61,987.67 1294.03,983.62 1297.46,979.6 1300.88,975.63 1304.3,971.7 1307.72,967.82 1311.14,963.98 1314.56,960.19 1317.98,956.45 1321.4,952.76 1324.83,949.13 1328.25,945.55 1331.67,942.03 1335.09,938.57 1338.51,935.16 1341.93,931.82 1345.35,928.55 1348.78,925.34 1352.2,922.19 1355.62,919.11 1359.04,916.11 1362.46,913.17 1365.88,910.31 1369.3,907.52 1372.72,904.81 1376.14,902.17 1379.57,899.61 1382.99,897.13 1386.41,894.73 1389.83,892.42 1393.25,890.19 1396.67,888.04 1400.09,885.97 1403.51,884 1406.94,882.11 1410.36,880.31 1413.78,878.59 1417.2,876.97 1420.62,875.44 1424.04,874 1427.46,872.66 1430.88,871.41 1434.31,870.25 1437.73,869.18 1441.15,868.22 1444.57,867.34 1447.99,866.57 1451.41,865.89 1454.83,865.3 1458.25,864.82 1461.68,864.43 1465.1,864.14 1468.52,863.94 1471.94,863.85 1475.36,863.85 1478.78,863.95 1482.2,864.15 1485.62,864.45 1489.05,864.84 1492.47,865.33 1495.89,865.92 1499.31,866.6 1502.73,867.39 1506.15,868.27 1509.57,869.24 1512.99,870.31 1516.42,871.47 1519.84,872.73 1523.26,874.08 1526.68,875.52 1530.1,877.06 1533.52,878.68 1536.94,880.4 1540.37,882.21 1543.79,884.1 1547.21,886.08 1550.63,888.15 1554.05,890.3 1557.47,892.54 1560.89,894.86 1564.31,897.27 1567.73,899.75 1571.16,902.31 1574.58,904.95 1578,907.67 1581.42,910.46 1584.84,913.33 1588.26,916.27 1591.68,919.28 1595.11,922.36 1598.53,925.51 1601.95,928.72 1605.37,932 1608.79,935.35 1612.21,938.75 1615.63,942.22 1619.05,945.74 1622.47,949.32 1625.9,952.96 1629.32,956.65 1632.74,960.39 1636.16,964.18 1639.58,968.02 1643,971.91 1646.42,975.84 1649.84,979.82 1653.27,983.83 1656.69,987.89 1660.11,991.98 1663.53,996.11 1666.95,1000.27 1670.37,1004.47 1673.79,1008.7 1677.21,1012.95 1680.64,1017.23 1684.06,1021.54 1687.48,1025.87 1690.9,1030.22 1694.32,1034.59 1697.74,1038.98 1701.16,1043.39 1704.58,1047.81 1708.01,1052.24 1711.43,1056.68 1714.85,1061.14 1718.27,1065.6 1721.69,1070.07 1725.11,1074.54 1728.53,1079.01 1731.95,1083.49 1735.38,1087.96 1738.8,1092.44 1742.22,1096.91 1745.64,1101.37 1749.06,1105.83 1752.48,1110.29 1755.9,1114.73 1759.32,1119.16 1762.75,1123.58 1766.17,1127.98 1769.59,1132.37 1773.01,1136.75 1776.43,1141.1 1779.85,1145.44 1783.27,1149.76 1786.69,1154.06 1790.12,1158.33 1793.54,1162.58 1796.96,1166.81 1800.38,1171.01 1803.8,1175.19 1807.22,1179.33 1810.64,1183.45 1814.06,1187.54 1817.49,1191.6 1820.91,1195.62 1824.33,1199.62 1827.75,1203.58 1831.17,1207.5 1834.59,1211.4 1838.01,1215.25 1841.43,1219.08 1844.86,1222.86 1848.28,1226.61 1851.7,1230.32 1855.12,1233.99 1858.54,1237.62 1861.96,1241.21 1865.38,1244.76 1868.8,1248.27 1872.23,1251.74 1875.65,1255.17 1879.07,1258.56 1882.49,1261.91 1885.91,1265.21 1889.33,1268.47 1892.75,1271.69 1896.17,1274.87 1899.6,1278 1903.02,1281.09 1906.44,1284.13 1909.86,1287.13 1913.28,1290.09 1916.7,1293.01 1920.12,1295.88 1923.54,1298.71 1926.97,1301.49 1930.39,1304.23 1933.81,1306.93 1937.23,1309.58 1940.65,1312.19 1944.07,1314.75 1947.49,1317.28 1950.91,1319.76 1954.34,1322.19 1957.76,1324.59 1961.18,1326.94 1964.6,1329.25" fill="none" stroke="#000" stroke-width="4.4" stroke-dasharray="4 10" stroke-dashoffset="-1.9" stroke-linecap="round" stroke-linejoin="round"/>
</g>
<path d="M1143.5 810.2H1964.6V1419.7" fill="none" stroke="#000" stroke-width="2"/>
<path d="M1143.5 810.2V1419.7H1964.6" fill="none" stroke="#000" stroke-width="2.2" stroke-linecap="square"/>
<path d="M1191.8 1419.7v9M1312.55 1419.7v9M1433.3 1419.7v9M1554.05 1419.7v9M1674.8 1419.7v9M1795.55 1419.7v9M1916.3 1419.7v9M1252.17 1419.7v4.6M1372.92 1419.7v4.6M1493.67 1419.7v4.6M1614.42 1419.7v4.6M1735.17 1419.7v4.6M1855.92 1419.7v4.6M1143.5 1419.7h-9M1143.5 1297.8h-9M1143.5 1175.9h-9M1143.5 1054h-9M1143.5 932.1h-9M1143.5 810.2h-9M1143.5 1358.75h-4.6M1143.5 1236.85h-4.6M1143.5 1114.95h-4.6M1143.5 993.05h-4.6M1143.5 871.15h-4.6" fill="none" stroke="#000" stroke-width="2"/>
<g font-family="'Liberation Serif', 'Times New Roman', serif" font-weight="bold" font-size="26" fill="#000" stroke="#000" stroke-width="0.35">
<g text-anchor="middle">
<text x="1191.8" y="1454.4">0.0</text>
<text x="1312.55" y="1454.4">0.5</text>
<text x="1433.3" y="1454.4">1.0</text>
<text x="1554.05" y="1454.4">1.5</text>
<text x="1674.8" y="1454.4">2.0</text>
<text x="1795.55" y="1454.4">2.5</text>
<text x="1916.3" y="1454.4">3.0</text>
</g><g text-anchor="end">
<text x="1128.3" y="1427.5">0</text>
<text x="1128.3" y="1305.6">50</text>
<text x="1128.3" y="1183.7">100</text>
<text x="1128.3" y="1061.8">150</text>
<text x="1128.3" y="939.9">200</text>
<text x="1128.3" y="818">250</text>
</g></g>
<g font-family="'Liberation Serif', 'Times New Roman', serif" font-weight="bold" font-size="29" fill="#000" stroke="#000" stroke-width="0.3" text-anchor="middle">
<text x="1554" y="1499.6">Fiber</text>
<text transform="translate(1079 1115.3) rotate(-90)">Count</text>
</g>
<rect x="1149.5" y="814.8" width="156.9" height="43.4" fill="#fff" stroke="#000" stroke-width="1.4"/>
<rect x="1154.05" y="820.05" width="68.3" height="32.1" fill="url(#hatch)" stroke="#000" stroke-width="3.3"/>
<text x="1268.3" y="847.1" text-anchor="middle" font-family="'Liberation Sans', Arial, sans-serif" font-size="32.5" fill="#000">Fiber</text>
</g>
<g id="c5">
<clipPath id="c5-clip"><rect x="607.7" y="1589.4" width="834.2" height="620.7"/></clipPath>
<g clip-path="url(#c5-clip)">
<g fill="url(#hatch)"><rect x="683.41" y="2052.02" width="75.71" height="156.98"/><rect x="759.12" y="2021.73" width="75.71" height="187.27"/><rect x="834.83" y="1930.85" width="75.71" height="278.15"/><rect x="910.54" y="1638.92" width="75.71" height="570.08"/><rect x="986.25" y="1999.7" width="75.71" height="209.3"/><rect x="1061.95" y="2104.35" width="75.71" height="104.65"/><rect x="1137.66" y="2063.04" width="75.71" height="145.96"/><rect x="1213.37" y="2115.36" width="75.71" height="93.64"/><rect x="1289.08" y="2131.89" width="75.71" height="77.11"/><rect x="1364.79" y="2148.41" width="75.71" height="60.59"/></g>
<g fill="url(#hl)"><rect x="683.41" y="2052.02" width="75.71" height="156.98"/><rect x="759.12" y="2021.73" width="75.71" height="187.27"/><rect x="834.83" y="1930.85" width="75.71" height="278.15"/><rect x="910.54" y="1638.92" width="75.71" height="570.08"/><rect x="986.25" y="1999.7" width="75.71" height="209.3"/><rect x="1061.95" y="2104.35" width="75.71" height="104.65"/><rect x="1137.66" y="2063.04" width="75.71" height="145.96"/><rect x="1213.37" y="2115.36" width="75.71" height="93.64"/><rect x="1289.08" y="2131.89" width="75.71" height="77.11"/><rect x="1364.79" y="2148.41" width="75.71" height="60.59"/></g>
<path d="M683.41 2209V2050.82M759.12 2209V2050.82M759.12 2209V2020.53M834.83 2209V2020.53M834.83 2209V1929.65M910.54 2209V1929.65M910.54 2209V1637.72M986.25 2209V1637.72M986.25 2209V1998.5M1061.95 2209V1998.5M1061.95 2209V2103.15M1137.66 2209V2103.15M1137.66 2209V2061.84M1213.37 2209V2061.84M1213.37 2209V2114.16M1289.08 2209V2114.16M1289.08 2209V2130.69M1364.79 2209V2130.69M1364.79 2209V2147.21M1440.5 2209V2147.21" fill="none" stroke="#000" stroke-width="3.5"/>
<path d="M681.66 2052.02H760.87M757.37 2021.73H836.58M833.08 1930.85H912.29M908.79 1638.92H988M984.5 1999.7H1063.7M1060.2 2104.35H1139.41M1135.91 2063.04H1215.12M1211.62 2115.36H1290.83M1287.33 2131.89H1366.54M1363.04 2148.41H1442.25" fill="none" stroke="#000" stroke-width="2.4"/>
<polyline points="607.7,2157.74 611.17,2155.4 614.64,2152.98 618.11,2150.48 621.58,2147.89 625.05,2145.21 628.52,2142.44 631.99,2139.58 635.46,2136.63 638.93,2133.58 642.4,2130.44 645.87,2127.2 649.34,2123.87 652.81,2120.43 656.28,2116.89 659.75,2113.26 663.22,2109.52 666.69,2105.67 670.16,2101.72 673.63,2097.67 677.1,2093.52 680.57,2089.25 684.04,2084.89 687.51,2080.41 690.98,2075.83 694.45,2071.15 697.92,2066.36 701.39,2061.46 704.86,2056.46 708.33,2051.36 711.8,2046.15 715.27,2040.84 718.74,2035.43 722.21,2029.92 725.68,2024.31 729.15,2018.61 732.62,2012.81 736.09,2006.92 739.56,2000.94 743.03,1994.87 746.5,1988.72 749.97,1982.48 753.44,1976.16 756.91,1969.77 760.38,1963.3 763.85,1956.76 767.32,1950.16 770.79,1943.5 774.26,1936.77 777.73,1930 781.2,1923.17 784.67,1916.3 788.14,1909.38 791.61,1902.43 795.08,1895.45 798.55,1888.45 802.02,1881.42 805.49,1874.38 808.96,1867.33 812.43,1860.28 815.9,1853.23 819.37,1846.19 822.84,1839.16 826.31,1832.16 829.78,1825.18 833.25,1818.23 836.72,1811.32 840.19,1804.46 843.66,1797.66 847.13,1790.91 850.6,1784.23 854.07,1777.62 857.54,1771.09 861.01,1764.65 864.48,1758.29 867.95,1752.04 871.42,1745.9 874.89,1739.87 878.36,1733.95 881.83,1728.16 885.3,1722.51 888.77,1716.99 892.24,1711.62 895.71,1706.39 899.18,1701.33 902.65,1696.42 906.12,1691.69 909.59,1687.12 913.06,1682.74 916.53,1678.54 920,1674.53 923.47,1670.71 926.94,1667.09 930.41,1663.67 933.88,1660.46 937.35,1657.46 940.82,1654.68 944.29,1652.11 947.76,1649.76 951.23,1647.64 954.7,1645.74 958.17,1644.08 961.64,1642.64 965.11,1641.43 968.58,1640.46 972.05,1639.73 975.52,1639.23 978.99,1638.97 982.46,1638.94 985.93,1639.15 989.4,1639.6 992.87,1640.29 996.34,1641.21 999.81,1642.36 1003.28,1643.75 1006.75,1645.37 1010.22,1647.21 1013.69,1649.29 1017.16,1651.59 1020.63,1654.11 1024.1,1656.85 1027.57,1659.8 1031.04,1662.97 1034.51,1666.34 1037.98,1669.92 1041.45,1673.69 1044.92,1677.66 1048.39,1681.82 1051.86,1686.17 1055.33,1690.69 1058.8,1695.39 1062.27,1700.26 1065.74,1705.29 1069.21,1710.48 1072.68,1715.82 1076.15,1721.31 1079.62,1726.94 1083.09,1732.7 1086.56,1738.59 1090.03,1744.59 1093.5,1750.72 1096.97,1756.94 1100.44,1763.27 1103.91,1769.7 1107.38,1776.21 1110.85,1782.8 1114.32,1789.47 1117.79,1796.2 1121.26,1803 1124.73,1809.85 1128.2,1816.74 1131.67,1823.68 1135.14,1830.66 1138.61,1837.66 1142.08,1844.68 1145.55,1851.72 1149.02,1858.77 1152.49,1865.82 1155.96,1872.87 1159.43,1879.91 1162.9,1886.94 1166.37,1893.95 1169.84,1900.94 1173.31,1907.89 1176.78,1914.82 1180.25,1921.7 1183.72,1928.53 1187.19,1935.32 1190.66,1942.06 1194.13,1948.74 1197.6,1955.35 1201.07,1961.9 1204.54,1968.39 1208.01,1974.8 1211.48,1981.13 1214.95,1987.38 1218.42,1993.56 1221.89,1999.64 1225.36,2005.64 1228.83,2011.56 1232.3,2017.37 1235.77,2023.1 1239.24,2028.73 1242.71,2034.26 1246.18,2039.69 1249.65,2045.02 1253.12,2050.25 1256.59,2055.37 1260.06,2060.4 1263.53,2065.32 1267,2070.13 1270.47,2074.84 1273.94,2079.44 1277.41,2083.94 1280.88,2088.33 1284.35,2092.61 1287.82,2096.79 1291.29,2100.86 1294.76,2104.83 1298.23,2108.7 1301.7,2112.46 1305.17,2116.12 1308.64,2119.68 1312.11,2123.14 1315.58,2126.5 1319.05,2129.76 1322.52,2132.92 1325.99,2135.99 1329.46,2138.96 1332.93,2141.84 1336.4,2144.62 1339.87,2147.32 1343.34,2149.93 1346.81,2152.45 1350.28,2154.89 1353.75,2157.25 1357.22,2159.52 1360.69,2161.71 1364.16,2163.82 1367.63,2165.86 1371.1,2167.82 1374.57,2169.71 1378.04,2171.53 1381.51,2173.28 1384.98,2174.96 1388.45,2176.58 1391.92,2178.13 1395.39,2179.62 1398.86,2181.05 1402.33,2182.42 1405.8,2183.73 1409.27,2184.99 1412.74,2186.2 1416.21,2187.35 1419.68,2188.46 1423.15,2189.51 1426.62,2190.52 1430.09,2191.49 1433.56,2192.41 1437.03,2193.29 1440.5,2194.13" fill="none" stroke="#000" stroke-width="3.2" stroke-dasharray="7.8 6.2" stroke-linejoin="round"/>
<clipPath id="c5-bars"><rect x="683.41" y="2052.02" width="75.71" height="156.98"/><rect x="759.12" y="2021.73" width="75.71" height="187.27"/><rect x="834.83" y="1930.85" width="75.71" height="278.15"/><rect x="910.54" y="1638.92" width="75.71" height="570.08"/><rect x="986.25" y="1999.7" width="75.71" height="209.3"/><rect x="1061.95" y="2104.35" width="75.71" height="104.65"/><rect x="1137.66" y="2063.04" width="75.71" height="145.96"/><rect x="1213.37" y="2115.36" width="75.71" height="93.64"/><rect x="1289.08" y="2131.89" width="75.71" height="77.11"/><rect x="1364.79" y="2148.41" width="75.71" height="60.59"/></clipPath>
<polyline clip-path="url(#c5-bars)" points="607.7,2157.74 611.17,2155.4 614.64,2152.98 618.11,2150.48 621.58,2147.89 625.05,2145.21 628.52,2142.44 631.99,2139.58 635.46,2136.63 638.93,2133.58 642.4,2130.44 645.87,2127.2 649.34,2123.87 652.81,2120.43 656.28,2116.89 659.75,2113.26 663.22,2109.52 666.69,2105.67 670.16,2101.72 673.63,2097.67 677.1,2093.52 680.57,2089.25 684.04,2084.89 687.51,2080.41 690.98,2075.83 694.45,2071.15 697.92,2066.36 701.39,2061.46 704.86,2056.46 708.33,2051.36 711.8,2046.15 715.27,2040.84 718.74,2035.43 722.21,2029.92 725.68,2024.31 729.15,2018.61 732.62,2012.81 736.09,2006.92 739.56,2000.94 743.03,1994.87 746.5,1988.72 749.97,1982.48 753.44,1976.16 756.91,1969.77 760.38,1963.3 763.85,1956.76 767.32,1950.16 770.79,1943.5 774.26,1936.77 777.73,1930 781.2,1923.17 784.67,1916.3 788.14,1909.38 791.61,1902.43 795.08,1895.45 798.55,1888.45 802.02,1881.42 805.49,1874.38 808.96,1867.33 812.43,1860.28 815.9,1853.23 819.37,1846.19 822.84,1839.16 826.31,1832.16 829.78,1825.18 833.25,1818.23 836.72,1811.32 840.19,1804.46 843.66,1797.66 847.13,1790.91 850.6,1784.23 854.07,1777.62 857.54,1771.09 861.01,1764.65 864.48,1758.29 867.95,1752.04 871.42,1745.9 874.89,1739.87 878.36,1733.95 881.83,1728.16 885.3,1722.51 888.77,1716.99 892.24,1711.62 895.71,1706.39 899.18,1701.33 902.65,1696.42 906.12,1691.69 909.59,1687.12 913.06,1682.74 916.53,1678.54 920,1674.53 923.47,1670.71 926.94,1667.09 930.41,1663.67 933.88,1660.46 937.35,1657.46 940.82,1654.68 944.29,1652.11 947.76,1649.76 951.23,1647.64 954.7,1645.74 958.17,1644.08 961.64,1642.64 965.11,1641.43 968.58,1640.46 972.05,1639.73 975.52,1639.23 978.99,1638.97 982.46,1638.94 985.93,1639.15 989.4,1639.6 992.87,1640.29 996.34,1641.21 999.81,1642.36 1003.28,1643.75 1006.75,1645.37 1010.22,1647.21 1013.69,1649.29 1017.16,1651.59 1020.63,1654.11 1024.1,1656.85 1027.57,1659.8 1031.04,1662.97 1034.51,1666.34 1037.98,1669.92 1041.45,1673.69 1044.92,1677.66 1048.39,1681.82 1051.86,1686.17 1055.33,1690.69 1058.8,1695.39 1062.27,1700.26 1065.74,1705.29 1069.21,1710.48 1072.68,1715.82 1076.15,1721.31 1079.62,1726.94 1083.09,1732.7 1086.56,1738.59 1090.03,1744.59 1093.5,1750.72 1096.97,1756.94 1100.44,1763.27 1103.91,1769.7 1107.38,1776.21 1110.85,1782.8 1114.32,1789.47 1117.79,1796.2 1121.26,1803 1124.73,1809.85 1128.2,1816.74 1131.67,1823.68 1135.14,1830.66 1138.61,1837.66 1142.08,1844.68 1145.55,1851.72 1149.02,1858.77 1152.49,1865.82 1155.96,1872.87 1159.43,1879.91 1162.9,1886.94 1166.37,1893.95 1169.84,1900.94 1173.31,1907.89 1176.78,1914.82 1180.25,1921.7 1183.72,1928.53 1187.19,1935.32 1190.66,1942.06 1194.13,1948.74 1197.6,1955.35 1201.07,1961.9 1204.54,1968.39 1208.01,1974.8 1211.48,1981.13 1214.95,1987.38 1218.42,1993.56 1221.89,1999.64 1225.36,2005.64 1228.83,2011.56 1232.3,2017.37 1235.77,2023.1 1239.24,2028.73 1242.71,2034.26 1246.18,2039.69 1249.65,2045.02 1253.12,2050.25 1256.59,2055.37 1260.06,2060.4 1263.53,2065.32 1267,2070.13 1270.47,2074.84 1273.94,2079.44 1277.41,2083.94 1280.88,2088.33 1284.35,2092.61 1287.82,2096.79 1291.29,2100.86 1294.76,2104.83 1298.23,2108.7 1301.7,2112.46 1305.17,2116.12 1308.64,2119.68 1312.11,2123.14 1315.58,2126.5 1319.05,2129.76 1322.52,2132.92 1325.99,2135.99 1329.46,2138.96 1332.93,2141.84 1336.4,2144.62 1339.87,2147.32 1343.34,2149.93 1346.81,2152.45 1350.28,2154.89 1353.75,2157.25 1357.22,2159.52 1360.69,2161.71 1364.16,2163.82 1367.63,2165.86 1371.1,2167.82 1374.57,2169.71 1378.04,2171.53 1381.51,2173.28 1384.98,2174.96 1388.45,2176.58 1391.92,2178.13 1395.39,2179.62 1398.86,2181.05 1402.33,2182.42 1405.8,2183.73 1409.27,2184.99 1412.74,2186.2 1416.21,2187.35 1419.68,2188.46 1423.15,2189.51 1426.62,2190.52 1430.09,2191.49 1433.56,2192.41 1437.03,2193.29 1440.5,2194.13" fill="none" stroke="#000" stroke-width="4.4" stroke-dasharray="4 10" stroke-dashoffset="-1.9" stroke-linecap="round" stroke-linejoin="round"/>
</g>
<path d="M607.7 1589.4H1440.5V2209" fill="none" stroke="#000" stroke-width="2"/>
<path d="M607.7 1589.4V2209H1440.5" fill="none" stroke="#000" stroke-width="2.2" stroke-linecap="square"/>
<path d="M683.41 2209v9M834.83 2209v9M986.25 2209v9M1137.66 2209v9M1289.08 2209v9M1440.5 2209v9M607.7 2209v4.6M759.12 2209v4.6M910.54 2209v4.6M1061.95 2209v4.6M1213.37 2209v4.6M1364.79 2209v4.6M607.7 2209h-9M607.7 2071.3h-9M607.7 1933.6h-9M607.7 1795.9h-9M607.7 1658.2h-9M607.7 2140.15h-4.6M607.7 2002.45h-4.6M607.7 1864.75h-4.6M607.7 1727.05h-4.6M607.7 1589.35h-4.6" fill="none" stroke="#000" stroke-width="2"/>
<g font-family="'Liberation Serif', 'Times New Roman', serif" font-weight="bold" font-size="26" fill="#000" stroke="#000" stroke-width="0.35">
<g text-anchor="middle">
<text x="683.41" y="2243.8">0.0</text>
<text x="834.83" y="2243.8">0.2</text>
<text x="986.25" y="2243.8">0.4</text>
<text x="1137.66" y="2243.8">0.6</text>
<text x="1289.08" y="2243.8">0.8</text>
<text x="1440.5" y="2243.8">1.0</text>
</g><g text-anchor="end">
<text x="593.2" y="2216.8">0</text>
<text x="593.2" y="2079.1">50</text>
<text x="593.2" y="1941.4">100</text>
<text x="593.2" y="1803.7">150</text>
<text x="593.2" y="1666">200</text>
</g></g>
<g font-family="'Liberation Serif', 'Times New Roman', serif" font-weight="bold" font-size="29" fill="#000" stroke="#000" stroke-width="0.3" text-anchor="middle">
<text x="1024.85" y="2289.3">Cr. Area (mm)</text>
<text transform="translate(542.7 1899.5) rotate(-90)">Count</text>
</g>
<rect x="613.7" y="1594.3" width="205.7" height="43.6" fill="#fff" stroke="#000" stroke-width="1.4"/>
<rect x="618.65" y="1599.65" width="68.8" height="32.7" fill="url(#hatch)" stroke="#000" stroke-width="3.3"/>
<text x="756.1" y="1627.1" text-anchor="middle" font-family="'Liberation Sans', Arial, sans-serif" font-size="32.5" fill="#000">Cr. Area</text>
</g>
</svg>
</body>
</html>
